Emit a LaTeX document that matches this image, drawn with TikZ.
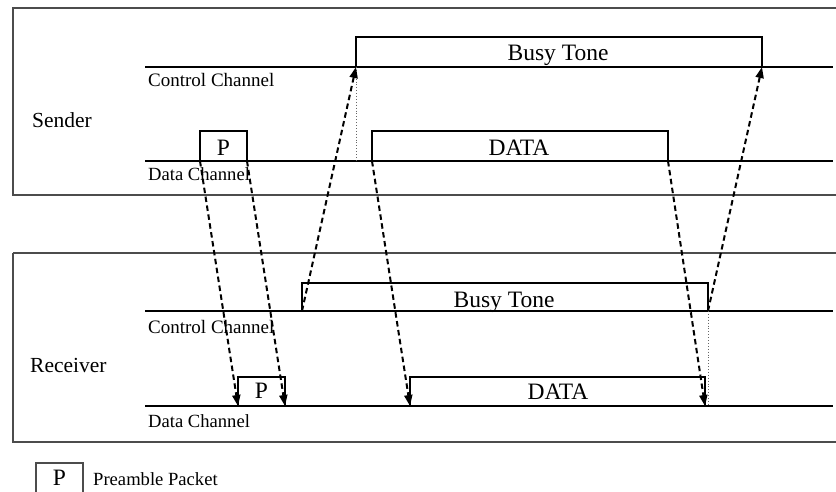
\documentclass[tikz,border=0pt]{standalone}
\usepackage{fontspec}
\setmainfont{Liberation Serif}
\usetikzlibrary{arrows.meta}
\begin{document}
\begin{tikzpicture}[x=1pt,y=-1pt,
  frame/.style={draw=black!70, line width=1.6pt},
  chan/.style={draw=black, line width=1.3pt},
  pkt/.style={draw=black, line width=1.3pt},
  sig/.style={draw=black, line width=2pt, dash pattern=on 5.5pt off 3.5pt,
    -{Triangle[length=11pt,width=8pt]}},
  guide/.style={draw=black!60, line width=0.9pt, dotted},
  lbl/.style={font=\fontsize{19}{19}\selectfont, anchor=base west, inner sep=0pt},
  side/.style={font=\fontsize{21.5}{22}\selectfont, anchor=base west, inner sep=0pt},
  big/.style={font=\fontsize{23.5}{24}\selectfont, anchor=base, inner sep=0pt},
  small/.style={font=\fontsize{18.6}{19}\selectfont, anchor=base west, inner sep=0pt}]
\useasboundingbox (0,0) rectangle (836,491);
\clip (0,0) rectangle (836,491);
% frames
\draw[frame] (13,195) |- (845,8);
\draw[frame] (13,8) -- (13,195) -- (845,195);
\draw[frame] (13,253) -- (845,253);
\draw[frame] (13,253) -- (13,442) -- (845,442);
% ---------- Sender ----------
\coordinate (sbtL) at (356,67);
\coordinate (sbtR) at (762,67);
\coordinate (spL) at (200,161);
\coordinate (spR) at (247,161);
\coordinate (sdL) at (372,161);
\coordinate (sdR) at (668,161);
\coordinate (sdot) at (356,161);
\draw[chan] (145,67) -- (833,67);
\draw[chan] (145,161) -- (833,161);
\draw[pkt] (sbtL) |- (762,37) -- (sbtR);
\draw[pkt] (spL) |- (247,131) -- (spR);
\draw[pkt] (sdL) |- (668,131) -- (sdR);
\node[big] (sbt) at (558,60) {Busy Tone};
\node[big] (sdata) at (519,155) {DATA};
\node[big] (sp) at (223.5,155) {P};
\node[lbl] (scc) at (148,86) {Control Channel};
\node[small] (sdc) at (148,180) {Data Channel};
\node[side] (snd) at (32,127) {Sender};
\draw[guide] (sbtL) -- (sdot);
% ---------- Receiver ----------
\coordinate (rbtL) at (302,311);
\coordinate (rbtR) at (708,311);
\coordinate (rpL) at (238,406);
\coordinate (rpR) at (285,406);
\coordinate (rdL) at (410,406);
\coordinate (rdR) at (705,406);
\coordinate (rdot) at (708,406);
\draw[chan] (145,311) -- (833,311);
\draw[chan] (145,406) -- (833,406);
\draw[pkt] (rbtL) |- (708,283) -- (rbtR);
\draw[pkt] (rpL) |- (285,377) -- (rpR);
\draw[pkt] (rdL) |- (705,377) -- (rdR);
\node[big] (rbt) at (504,307) {Busy Tone};
\node[big] (rdata) at (558,399) {DATA};
\node[big] (rp) at (261.5,398) {P};
\node[lbl] (rcc) at (148,333) {Control Channel};
\node[small] (rdc) at (148,427) {Data Channel};
\node[side] (rcv) at (30,372) {Receiver};
\draw[guide] (rbtR) -- (rdot);
% ---------- signals ----------
\draw[sig] (spL) -- (rpL);
\draw[sig] (spR) -- (rpR);
\draw[sig] (rbtL) -- (sbtL);
\draw[sig] (sdL) -- (rdL);
\draw[sig] (sdR) -- (rdR);
\draw[sig] (rbtR) -- (sbtR);
% ---------- legend ----------
\draw[draw=black!70, line width=1.3pt] (36,463) rectangle (83,495);
\node[big] (lp) at (59.5,485) {P};
\node[small] (lt) at (93,485) {Preamble Packet};
\end{tikzpicture}
\end{document}
